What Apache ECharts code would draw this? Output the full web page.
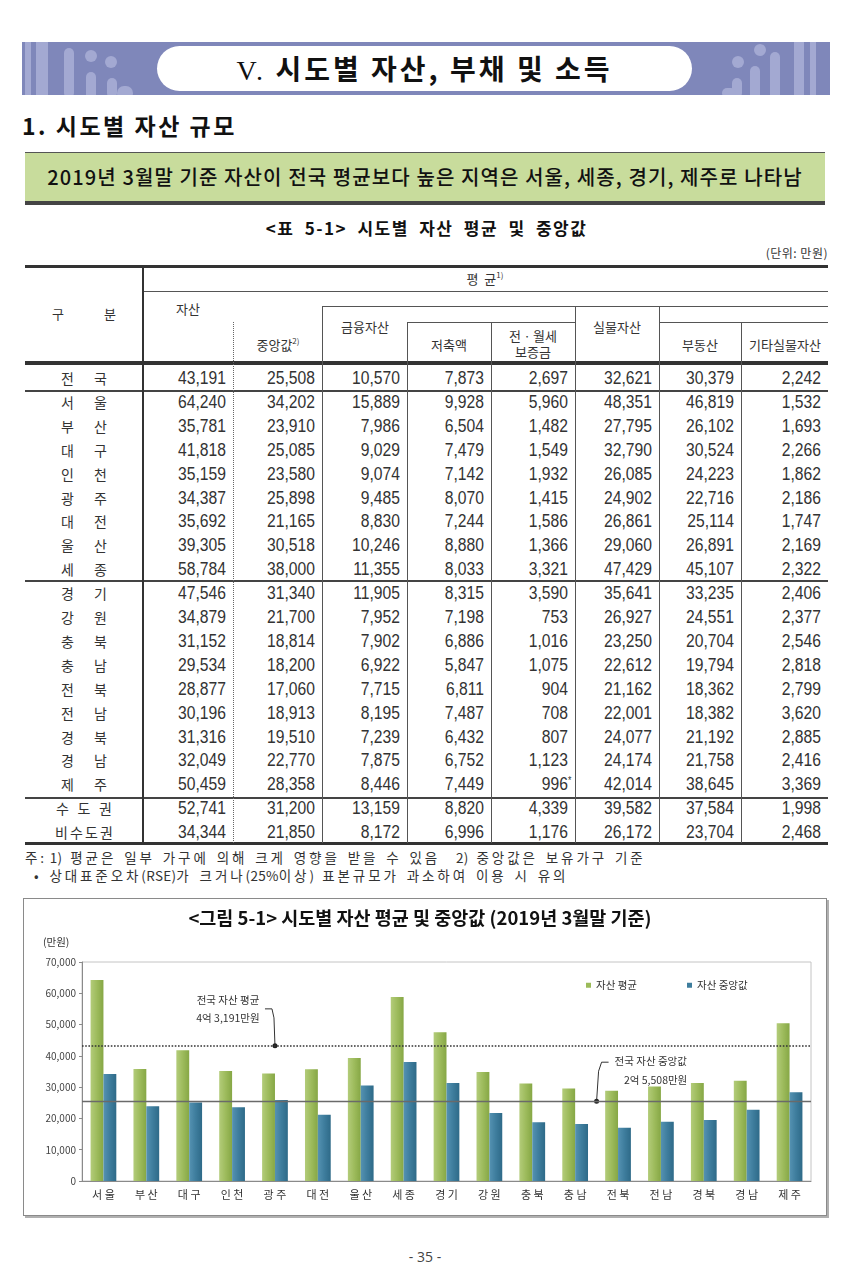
<!DOCTYPE html>
<html><head><meta charset="utf-8">
<script src="https://cdn.jsdelivr.net/npm/echarts@6/dist/echarts.min.js"></script>
<style>
body{margin:0;background:#fff;}
#page{position:relative;width:850px;height:1271px;overflow:hidden;font-family:'Noto Sans CJK KR',sans-serif;color:#222;background:#fff;}
.abs{position:absolute;}
.num{position:absolute;font-family:'Liberation Sans',sans-serif;font-size:18px;text-align:right;line-height:20px;color:#333;white-space:nowrap;transform:scaleX(0.87);transform-origin:right center;}
.hd{position:absolute;font-size:13px;text-align:center;line-height:16px;color:#333;white-space:nowrap;}
.lbl{position:absolute;font-size:14px;line-height:18px;color:#333;display:flex;justify-content:space-between;}
.a{letter-spacing:0.3px;}
sup{font-size:8px;vertical-align:6px;line-height:0;}
</style></head><body>
<div id="page">
  <div class="abs" id="band" style="left:22px;top:42px;width:808px;height:53px;background:#7f87ba;overflow:hidden;"></div>
  <div class="abs" style="left:157px;top:46px;width:535px;height:45px;border-radius:23px;background:#fff;"></div>
  <div class="abs" style="left:157px;top:46px;width:535px;height:45px;line-height:45px;text-align:center;font-size:28px;font-weight:700;color:#111;letter-spacing:3px;"><span style="font-family:'Liberation Serif',serif;font-weight:400;">V.</span> 시도별 자산, 부채 및 소득</div>
  <div class="abs" style="left:22px;top:110px;font-size:23px;font-weight:700;line-height:30px;color:#111;letter-spacing:2.5px;">1. 시도별 자산 규모</div>
  <div class="abs" style="left:25px;top:152px;width:800px;height:48px;background:#c8dc9c;border-top:1.5px solid #555;border-bottom:4px solid #444;"></div>
  <div class="abs" style="left:25px;top:153px;width:800px;height:48px;line-height:48px;text-align:center;font-size:20px;font-weight:500;color:#111;letter-spacing:1.1px;">2019년 3월말 기준 자산이 전국 평균보다 높은 지역은 서울, 세종, 경기, 제주로 나타남</div>
  <div class="abs" style="left:25px;top:216px;width:803px;text-align:center;font-size:17px;font-weight:700;line-height:24px;color:#111;letter-spacing:1.5px;word-spacing:5px;">&lt;표 5-1&gt; 시도별 자산 평균 및 중앙값</div>
  <div class="abs" style="left:700px;top:244px;width:128px;text-align:right;font-size:12px;line-height:18px;color:#333;letter-spacing:0.5px;">(단위: 만원)</div>
  <div class="abs" style="left:25px;top:847px;font-size:13.5px;line-height:20px;color:#333;letter-spacing:2.9px;word-spacing:2px;white-space:nowrap;">주<span class="a">: 1)</span> 평균은 일부 가구에 의해 크게 영향을 받을 수 있음 &nbsp;<span class="a">2)</span> 중앙값은 보유가구 기준</div>
  <div class="abs" style="left:34px;top:865px;font-size:13.5px;line-height:20px;color:#333;letter-spacing:2.9px;word-spacing:2px;white-space:nowrap;">• 상대표준오차<span class="a">(RSE)</span>가 크거나<span class="a">(25%</span>이상<span class="a">)</span> 표본규모가 과소하여 이용 시 유의</div>
  <div class="abs" style="left:23px;top:898px;width:802px;height:316px;border:1.5px solid #8a8a8a;box-shadow:2px 2px 0 #b0b0b0;"></div>
  <div class="abs" id="chart" style="left:25px;top:900px;width:801px;height:315px;"></div>
  <div class="abs" style="left:0;top:1247px;width:850px;text-align:center;font-size:14px;line-height:20px;color:#444;font-family:'Open Sans',sans-serif;">- 35 -</div>
</div>
<script>
// ---- data ----
const rowLabels = ['전국','서울','부산','대구','인천','광주','대전','울산','세종','경기','강원','충북','충남','전북','전남','경북','경남','제주','수도권','비수도권'];
const assetMean = [43191,64240,35781,41818,35159,34387,35692,39305,58784,47546,34879,31152,29534,28877,30196,31316,32049,50459,52741,34344];
const assetMedian = [25508,34202,23910,25085,23580,25898,21165,30518,38000,31340,21700,18814,18200,17060,18913,19510,22770,28358,31200,21850];
const financial = [10570,15889,7986,9029,9074,9485,8830,10246,11355,11905,7952,7902,6922,7715,8195,7239,7875,8446,13159,8172];
const savings = [7873,9928,6504,7479,7142,8070,7244,8880,8033,8315,7198,6886,5847,6811,7487,6432,6752,7449,8820,6996];
const deposit = [2697,5960,1482,1549,1932,1415,1586,1366,3321,3590,753,1016,1075,904,708,807,1123,996,4339,1176];
const realAsset = [32621,48351,27795,32790,26085,24902,26861,29060,47429,35641,26927,23250,22612,21162,22001,24077,24174,42014,39582,26172];
const realEstate = [30379,46819,26102,30524,24223,22716,25114,26891,45107,33235,24551,20704,19794,18362,18382,21192,21758,38645,37584,23704];
const otherReal = [2242,1532,1693,2266,1862,2186,1747,2169,2322,2406,2377,2546,2818,2799,3620,2885,2416,3369,1998,2468];
const rseFlag = [[4,17]]; // [column, row] flagged with *
const cities = rowLabels.slice(1,18);
const chartMean = assetMean.slice(1,18);
const chartMedian = assetMedian.slice(1,18);
const seriesNames = ['자산 평균','자산 중앙값'];

// ---- header band decoration ----
const band = document.getElementById('band');
const deco = [[3,0,6,53,0],[14,0,12,53,0],[42,6,10,50,5],[64,30,10,30,5],[85,36,10,20,5],[95,44,16,14,8],
              [788,0,6,53,0],[772,0,10,53,0],[748,10,10,50,5],[728,24,10,40,5],[710,36,10,20,5],[700,46,14,10,7]];
deco.forEach(d=>{const e=document.createElement('div');e.className='abs';
  e.style.cssText=`left:${d[0]}px;top:${d[1]}px;width:${d[2]}px;height:${d[3]}px;border-radius:${d[4]}px;background:#a3a9d2;`;band.appendChild(e);});
[[69,14,6],[89,20,6],[738,8,6],[716,20,6]].forEach(c=>{const e=document.createElement('div');e.className='abs';
  e.style.cssText=`left:${c[0]-c[2]}px;top:${c[1]-c[2]}px;width:${c[2]*2}px;height:${c[2]*2}px;border-radius:50%;background:#a3a9d2;`;band.appendChild(e);});

// ---- table ----
const page = document.getElementById('page');
function add(html, cls, css){const e=document.createElement('div');e.className=cls;e.style.cssText=css;e.innerHTML=html;page.appendChild(e);return e;}
function hl(x1,x2,y,t,c){add('','abs',`left:${x1}px;top:${y}px;width:${x2-x1}px;height:${t}px;background:${c||'#444'};`);}
function vl(x,y1,y2,t,c,dot){ if(dot) add('','abs',`left:${x}px;top:${y1}px;width:0;height:${y2-y1}px;border-left:1px dotted #666;`);
  else add('','abs',`left:${x}px;top:${y1}px;width:${t}px;height:${y2-y1}px;background:${c||'#555'};`);}
const colX = [143,233,322,407,491,575,659,741,828];
hl(25,828,265,3,'#333');
hl(143,828,291,1,'#555');
hl(322,828,306,1,'#555');
hl(407,575,322,1,'#555');
hl(659,828,322,1,'#555');
hl(25,828,361,4,'#333');
hl(25,828,390,1.5,'#444');
hl(25,828,580,1.5,'#444');
hl(25,828,797,1.5,'#444');
hl(25,828,842,2.5,'#333');
vl(142,265,844,2,'#333');
vl(233,322,843,1,null,true);
vl(322,306,843,1);
vl(407,322,843,1);
vl(491,322,843,1);
vl(575,306,843,1);
vl(659,306,843,1);
vl(741,322,843,1);
// header text
function hd(text,cx,cy){add(text,'hd',`left:${cx-60}px;width:120px;top:${cy-8}px;`);}
add('<span>구</span><span>분</span>','lbl',`left:52px;width:64px;top:305px;font-size:13px;`);
hd('평 &nbsp;균<sup>1)</sup>',485,279);
hd('자산',188,309);
hd('중앙값<sup>2)</sup>',278,345);
hd('금융자산',365,327);
hd('저축액',449,345);
hd('전ㆍ월세',533,336);
hd('보증금',533,352);
hd('실물자산',617,327);
hd('부동산',700,345);
hd('기타실물자산',785,345);
// rows
const cols = [assetMean,assetMedian,financial,savings,deposit,realAsset,realEstate,otherReal];
const fmt = v => v.toLocaleString('en-US');
rowLabels.forEach((lab,i)=>{
  const cy = 378 + 23.9*i;
  let w = lab.length===2 ? 46 : (lab.length===3 ? 56 : 58);
  const inner = lab.split('').map(c=>`<span>${c}</span>`).join('');
  add(inner,'lbl',`left:${84-w/2}px;width:${w}px;top:${cy-9}px;`);
  cols.forEach((arr,j)=>{
    const flag = rseFlag.some(f=>f[0]===j&&f[1]===i);
    const right = colX[j+1]-7;
    add(fmt(arr[i])+(flag?'<span style="position:absolute;font-size:10px;top:-3px;">*</span>':''),'num',`left:${right-80}px;width:80px;top:${cy-10}px;`);
  });
});

// ---- chart ----
const chart = echarts.init(document.getElementById('chart'));
const greenGrad = new echarts.graphic.LinearGradient(0,0,1,0,[{offset:0,color:'#b3cc7a'},{offset:0.5,color:'#9dbb5c'},{offset:1,color:'#86a745'}]);
const blueGrad = new echarts.graphic.LinearGradient(0,0,1,0,[{offset:0,color:'#5592b2'},{offset:0.5,color:'#3e7d9d'},{offset:1,color:'#2e6a88'}]);
const option = {
  animation:false,
  textStyle:{fontFamily:'Noto Sans CJK KR'},
  title:{text:'<그림 5-1> 시도별 자산 평균 및 중앙값 (2019년 3월말 기준)',left:390,textAlign:'center',top:4,
    textStyle:{fontSize:18.5,fontWeight:'bold',color:'#111',fontFamily:'Noto Sans CJK KR'}},
  legend:{data:[{name:seriesNames[0],itemStyle:{color:'#9bbb59'}},{name:seriesNames[1],itemStyle:{color:'#3e7d9d'}}],
    left:556,top:75,icon:'rect',itemWidth:5,itemHeight:5,itemGap:50,
    textStyle:{fontSize:10.5,color:'#333',fontFamily:'Noto Sans CJK KR'}},
  grid:{left:57,right:15,top:62,bottom:34,show:true,borderColor:'#c4c4c4',borderWidth:1},
  xAxis:{type:'category',data:cities,axisLine:{lineStyle:{color:'#8a8a8a'}},axisTick:{show:false},
    axisLabel:{fontSize:11,color:'#333',margin:8,formatter:v=>v.split('').join(' ')}},
  yAxis:{type:'value',min:0,max:70000,interval:10000,
    axisLine:{show:true,lineStyle:{color:'#8a8a8a'}},axisTick:{show:true,length:3,lineStyle:{color:'#8a8a8a'}},
    splitLine:{show:false},
    axisLabel:{fontSize:10,color:'#444',margin:6,formatter:v=>v.toLocaleString('en-US')}},
  series:[
    {name:seriesNames[0],type:'bar',data:chartMean,barGap:'0%',barCategoryGap:'40%',itemStyle:{color:greenGrad},
     markLine:{silent:true,symbol:['none','none'],label:{show:false},lineStyle:{type:'dotted',color:'#333',width:1.6},data:[{yAxis:assetMean[0]}]}},
    {name:seriesNames[1],type:'bar',data:chartMedian,itemStyle:{color:blueGrad},
     markLine:{silent:true,symbol:['none','none'],label:{show:false},lineStyle:{type:'solid',color:'#6a6a6a',width:1.3},data:[{yAxis:assetMedian[0]}]}}
  ]
};
chart.setOption(option);
// annotations anchored to data positions
const pAvg = chart.convertToPixel({xAxisIndex:0,yAxisIndex:0},['광주',assetMean[0]]);
const pA = chart.convertToPixel({xAxisIndex:0,yAxisIndex:0},['충남',assetMedian[0]]);
const pB = chart.convertToPixel({xAxisIndex:0,yAxisIndex:0},['전북',assetMedian[0]]);
const pMed = [(pA[0]+pB[0])/2, pA[1]];
const ts = {fontSize:10.5,fill:'#333',fontFamily:'Noto Sans CJK KR'};
chart.setOption({graphic:[
  {type:'text',left:18,top:37,style:Object.assign({text:'(만원)'},ts)},
  {type:'text',x:pAvg[0]-47,y:pAvg[1]-46,style:Object.assign({text:'전국 자산 평균',align:'center',verticalAlign:'middle'},ts)},
  {type:'text',x:pAvg[0]-47,y:pAvg[1]-28,style:Object.assign({text:'4억 3,191만원',align:'center',verticalAlign:'middle'},ts)},
  {type:'polyline',shape:{points:[[pAvg[0]-10,pAvg[1]-37],[pAvg[0]-3,pAvg[1]-37],[pAvg[0]-1,pAvg[1]-28],[pAvg[0],pAvg[1]]]},style:{stroke:'#333',lineWidth:1,fill:null}},
  {type:'circle',shape:{cx:pAvg[0],cy:pAvg[1],r:2.5},style:{fill:'#222'}},
  {type:'text',x:pMed[0]+18,y:pMed[1]-40,style:Object.assign({text:'전국 자산 중앙값',align:'left',verticalAlign:'middle'},ts)},
  {type:'text',x:pMed[0]+59,y:pMed[1]-21,style:Object.assign({text:'2억 5,508만원',align:'center',verticalAlign:'middle'},ts)},
  {type:'polyline',shape:{points:[[pMed[0]+12,pMed[1]-39],[pMed[0]+5,pMed[1]-39],[pMed[0]+2,pMed[1]-30],[pMed[0],pMed[1]]]},style:{stroke:'#333',lineWidth:1,fill:null}},
  {type:'circle',shape:{cx:pMed[0],cy:pMed[1],r:2.5},style:{fill:'#222'}}
]});
</script>
</body></html>
